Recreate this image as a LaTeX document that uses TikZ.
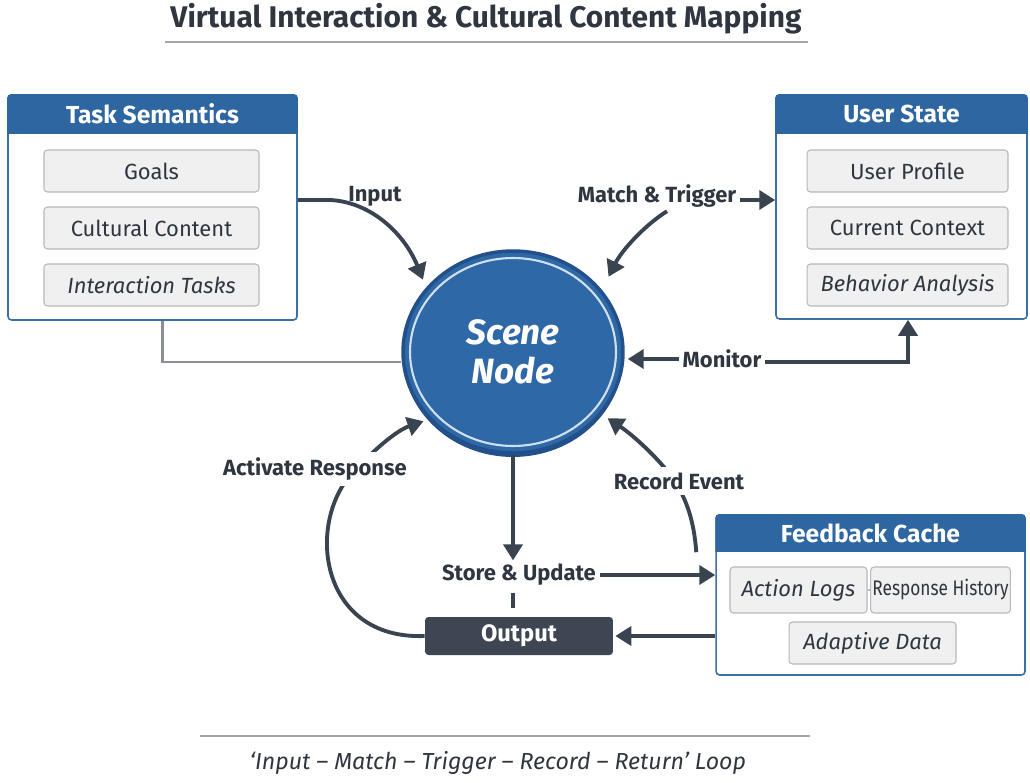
\documentclass[tikz,border=0pt]{standalone}
\usepackage{fontspec}
\setmainfont{Fira Sans}
\usepackage{xcolor}
\usetikzlibrary{
    positioning,
    arrows.meta,
    shapes.geometric,
    calc,
}
\definecolor{headblue}{HTML}{2E66A1}
\definecolor{panelline}{HTML}{3C6FA3}
\definecolor{itemfill}{HTML}{F0F0F0}
\definecolor{itemline}{HTML}{B5B8BC}
\definecolor{inkdark}{HTML}{2F3640}
\definecolor{linkcol}{HTML}{3A4350}
\definecolor{greyline}{HTML}{8C9096}
\definecolor{outfill}{HTML}{3D4652}
\definecolor{sceneblue}{HTML}{2F68A6}
\definecolor{scenerim}{HTML}{22508A}
\definecolor{scenering}{HTML}{CFE0F0}
\tikzset{
    % Box styles
    panel/.style={rectangle, draw=panelline, line width=0.9pt, fill=white,
                  rounded corners=2pt, inner sep=0pt},
    panel head/.style={font=\fontsize{14}{16}\selectfont\bfseries, text=white},
    item/.style={rectangle, draw=itemline, line width=0.6pt, fill=itemfill,
                 rounded corners=2pt, minimum height=8.4mm, inner sep=1pt,
                 font=\fontsize{12.5}{14}\selectfont, text=inkdark},
    % Arrow styles
    arrow/.style={draw=linkcol, line width=2.2pt, -{Triangle[length=3.2mm, width=3.8mm]}},
    link/.style={draw=linkcol, line width=2.2pt},
    grey link/.style={draw=greyline, line width=1.6pt},
    % Annotation styles
    flowlabel/.style={font=\fontsize{12.5}{14}\selectfont\bfseries, text=inkdark, inner sep=2pt},
    rule/.style={draw=gray!70, line width=1pt},
}

\begin{document}
\begin{tikzpicture}[x=0.02cm, y=0.02cm]
    \useasboundingbox (0,0) rectangle (1030,-783);

    % Title
    \node[font=\fontsize{17}{20}\selectfont\bfseries, text=inkdark] (title) at (486,-19)
        {Virtual Interaction \& Cultural Content Mapping};
    \draw[rule] (165,-42) -- (808,-42);

    % Task semantics
    \node[panel, minimum width=57.8mm, minimum height=45mm] (task) at (152.5,-207.5) {};
    \begin{scope}
        \clip[rounded corners=2pt] (task.north west) rectangle (task.south east);
        \fill[headblue] (task.north west) rectangle ([yshift=-8mm]task.north east);
    \end{scope}
    \node[panel head] (taskhead) at ([yshift=-4mm]task.north) {Task Semantics};
    \node[item, minimum width=43mm] (goals) at (151.5,-171) {Goals};
    \node[item, minimum width=43mm] (content) at (151.5,-228) {Cultural Content};
    \node[item, minimum width=43mm, font=\fontsize{12.5}{14}\selectfont\itshape] (tasks) at (151.5,-285) {Interaction Tasks};

    % User state
    \node[panel, minimum width=50.2mm, minimum height=44.8mm] (user) at (901.5,-207) {};
    \begin{scope}
        \clip[rounded corners=2pt] (user.north west) rectangle (user.south east);
        \fill[headblue] (user.north west) rectangle ([yshift=-8mm]user.north east);
    \end{scope}
    \node[panel head] (userhead) at ([yshift=-4mm]user.north) {User State};
    \node[item, minimum width=40.2mm] (profile) at (907.5,-171) {User Profile};
    \node[item, minimum width=40.2mm] (context) at (907.5,-228) {Current Context};
    \node[item, minimum width=40.2mm, font=\fontsize{12.5}{14}\selectfont\itshape] (behavior) at (907.5,-285) {Behavior Analysis};

    % Feedback cache
    \node[panel, minimum width=61.8mm, minimum height=32mm] (fb) at (870.5,-595) {};
    \begin{scope}
        \clip[rounded corners=2pt] (fb.north west) rectangle (fb.south east);
        \fill[headblue] (fb.north west) rectangle ([yshift=-7.6mm]fb.north east);
    \end{scope}
    \node[panel head] (fbhead) at ([yshift=-3.8mm]fb.north) {Feedback Cache};
    \node[item, minimum width=27.4mm, minimum height=9.2mm, font=\fontsize{12.5}{14}\selectfont\itshape] (logs) at (798.5,-590) {Action Logs};
    \node[item, minimum width=27.8mm, minimum height=9.2mm] (history) at (940.5,-590)
        {\scalebox{0.82}[1]{\fontsize{12}{14}\selectfont Response History}};
    \node[item, minimum width=33.4mm, font=\fontsize{12.5}{14}\selectfont\itshape] (adaptive) at (872.5,-643) {Adaptive Data};
    \draw[itemline, line width=1pt] (logs.east) -- (history.west);

    % Scene node
    \fill[scenerim] (513,-356) ellipse [x radius=22mm, y radius=20.2mm];
    \node[ellipse, fill=sceneblue, draw=scenerim, line width=2pt, minimum width=44mm, minimum height=40.4mm,
          align=center, text=white, font=\fontsize{20}{22}\selectfont\bfseries\itshape] (scene) at (513,-352) {Scene\\Node};
    \draw[scenering, line width=1.2pt] (scene.center) ellipse [x radius=20.6mm, y radius=18.8mm];

    % Output
    \node[rectangle, fill=outfill, rounded corners=2pt, minimum width=37.6mm, minimum height=7.6mm,
          text=white, font=\fontsize{13.5}{15}\selectfont\bfseries] (output) at (519,-636) {Output};

    % Flow labels
    \node[flowlabel] (inlab) at (375,-196) {Input};
    \node[flowlabel] (mtlab) at (657,-196) {Match \& Trigger};
    \node[flowlabel] (monlab) at (722,-359) {Monitor};
    \node[flowlabel] (sulab) at (519,-575) {Store \& Update};

    % Arrows
    \draw[arrow] (task.east |- 0,-200) -- (330,-200)
        .. controls (372,-202) and (405,-235) .. ([shift={(-1.5mm,0.6mm)}]scene.140);
    \draw[arrow] (mtlab.east |- 0,-200) -- (user.west |- 0,-200);
    \draw[arrow] ([xshift=2mm]mtlab.south) .. controls (645,-225) and (622,-250) .. ([shift={(2.6mm,1.2mm)}]scene.40);
    \draw[arrow, shorten >=0.6mm] (monlab.west) -- (scene.east |- monlab);
    \draw[arrow] (monlab.east |- 0,-362) -| ([xshift=1.3mm]user.south);
    \draw[grey link] ([xshift=2mm]task.south) |- (scene.west |- 0,-362);
    \draw[arrow] (scene.south) -- (scene.south |- sulab.north);
    \draw[link] ([yshift=-0.6mm]scene.south |- sulab.south) -- ([yshift=1.8mm]scene.south |- output.north);
    \draw[arrow] (sulab.east) -- (fb.west |- sulab);
    \draw[arrow] (fb.west |- output) -- ([xshift=0.4mm]output.east);

    % Loop arrows (labels drawn over them)
    \draw[arrow] (output.west) .. controls (318,-640) and (305,-520) .. (355,-470)
        .. controls (378,-446) and (398,-430) .. ([xshift=-1.4mm]scene.220);
    \node[flowlabel, fill=white, inner sep=3pt] (arlab) at (315,-469) {Activate Response};
    \draw[arrow] ([shift={(-3.8mm,-7.6mm)}]fb.north west) .. controls (694,-520) and (686,-495) .. (668,-472)
        .. controls (652,-452) and (630,-433) .. ([shift={(2.4mm,0.6mm)}]scene.-40);
    \node[flowlabel, fill=white, inner sep=3pt] (relab) at (679,-481) {Record Event};

    % Footer
    \draw[rule] (200,-736) -- (810,-736);
    \node[font=\fontsize{13.2}{15}\selectfont\itshape, text=inkdark] (loop) at (498,-763)
        {`Input -- Match -- Trigger -- Record -- Return' Loop};
\end{tikzpicture}
\end{document}
